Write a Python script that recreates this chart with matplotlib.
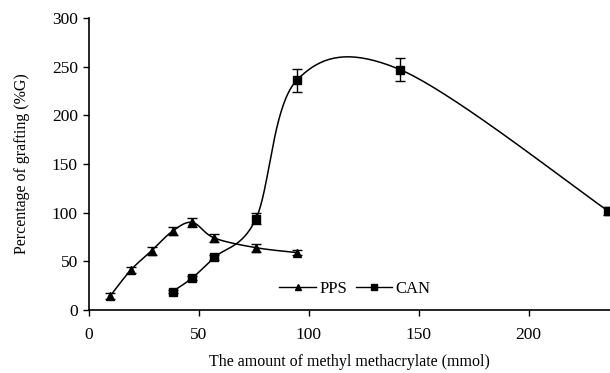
import numpy as np
import matplotlib
matplotlib.use("Agg")
import matplotlib.pyplot as plt
from matplotlib.lines import Line2D

# ---- data ----
pps_x = [9.5, 19, 28.5, 38, 47, 57, 76, 94.5]
pps_y = [14, 41, 61, 81, 90, 74, 64, 59]
pps_err = [3, 3, 4, 4, 5, 4, 4, 3]

can_x = [38, 47, 57, 76, 94.5, 141.5, 236]
can_y = [19, 33, 54, 94, 236, 247, 102]
can_err = [2, 2, 3, 6, 12, 12, 4]

x_ticks = [0, 50, 100, 150, 200]
y_ticks = [0, 50, 100, 150, 200, 250, 300]

plt.rcParams['font.family'] = ['Liberation Serif', 'DejaVu Serif']

fig = plt.figure(figsize=(6.10, 3.73), dpi=100)
ax = fig.add_axes([89/610, 1 - 310/373, (610 - 89)/610, (310 - 18)/373])
xmax = 237
ax.set_xlim(0, xmax)
ax.set_ylim(0, 300)

# scale factors to approximate screen space for smoothing
sx = (610 - 89) / xmax
sy = (310 - 18) / 300.0


def smooth(xs, ys, n=40):
    P = np.column_stack([np.asarray(xs, float) * sx, np.asarray(ys, float) * sy])
    out = []
    m = len(P)
    for i in range(m - 1):
        p0 = P[i - 1] if i > 0 else P[i]
        p1 = P[i]
        p2 = P[i + 1]
        p3 = P[i + 2] if i + 2 < m else P[i + 1]
        c1 = p1 + (p2 - p0) / 6.0
        c2 = p2 - (p3 - p1) / 6.0
        t = np.linspace(0, 1, n)[:, None]
        seg = ((1 - t) ** 3) * p1 + 3 * ((1 - t) ** 2) * t * c1 + 3 * (1 - t) * t ** 2 * c2 + t ** 3 * p2
        out.append(seg if i == 0 else seg[1:])
    S = np.vstack(out)
    return S[:, 0] / sx, S[:, 1] / sy

for xs, ys, errs, mk in [(pps_x, pps_y, pps_err, '^'), (can_x, can_y, can_err, 's')]:
    cx, cy = smooth(xs, ys)
    ax.plot(cx, cy, color='black', lw=1.1, clip_on=False, zorder=2)
    ax.errorbar(xs, ys, yerr=errs, fmt=mk, color='black', ms=6, capsize=3.5,
                elinewidth=1, capthick=1, clip_on=False, zorder=3)

ax.spines['top'].set_visible(False)
ax.spines['right'].set_visible(False)
ax.spines['left'].set_linewidth(1.2)
ax.spines['bottom'].set_linewidth(1.2)
ax.set_xticks(x_ticks)
ax.set_yticks(y_ticks)
ax.tick_params(axis='both', direction='out', length=4, width=1, labelsize=12.5, colors='black')
ax.tick_params(axis='x', pad=8)
ax.tick_params(axis='y', pad=4)

ax.set_xlabel('The amount of methyl methacrylate (mmol)', fontsize=11.5, labelpad=8)
ax.set_ylabel('Percentage of grafting (%G)', fontsize=11.5, labelpad=16)

handles = [Line2D([], [], color='black', marker='^', ms=5, lw=1),
           Line2D([], [], color='black', marker='s', ms=4, lw=1)]
ax.legend(handles, ['PPS', 'CAN'], loc='center', bbox_to_anchor=((355 - 89) / 521, (310 - 289) / 292),
          ncol=2, frameon=False, fontsize=12, handlelength=2.2, handletextpad=0.2,
          columnspacing=0.5, borderpad=0)

fig.savefig('out.png', dpi=100)
